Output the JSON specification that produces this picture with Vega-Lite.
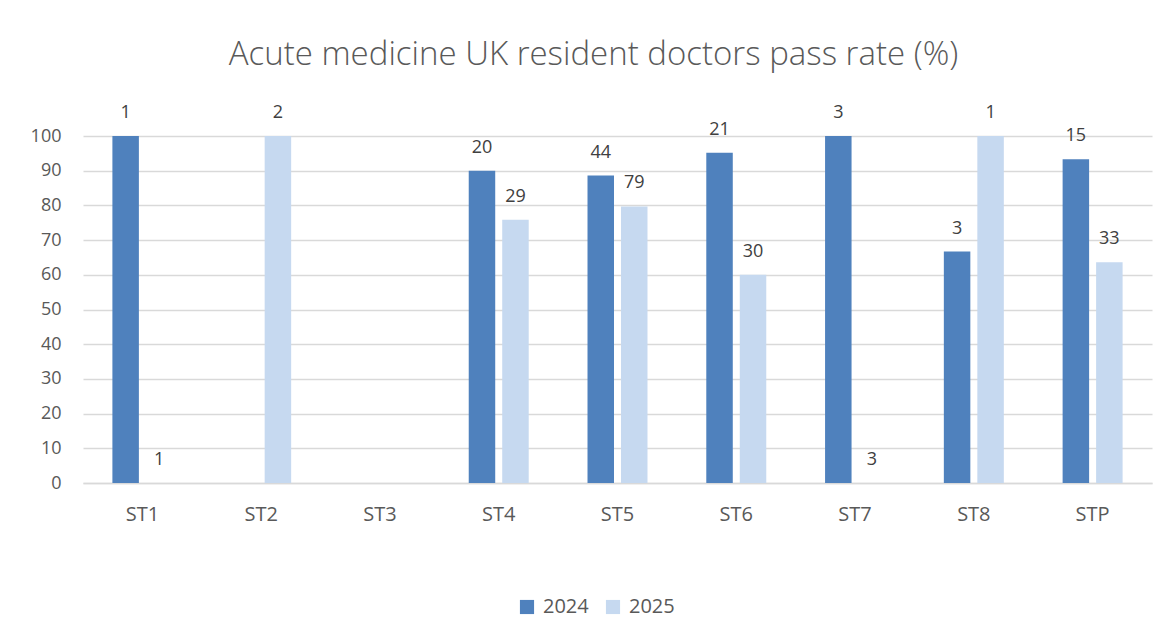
{
  "$schema": "https://vega.github.io/schema/vega-lite/v6.json",
  "width": 1069,
  "height": 347,
  "autosize": {"type": "none"},
  "padding": {"left": 83, "top": 136, "right": 20, "bottom": 157},
  "background": "white",
  "title": {
    "text": "Acute medicine UK resident doctors pass rate (%)",
    "font": "Open Sans",
    "fontWeight": 300,
    "fontSize": 33,
    "color": "#595959",
    "anchor": "middle",
    "dx": -24,
    "offset": 32
  },
  "data": {
    "values": [
      {"grade": "ST1", "year": "2024", "rate": 100, "n": 1},
      {"grade": "ST1", "year": "2025", "rate": 0, "n": 1},
      {"grade": "ST2", "year": "2025", "rate": 100, "n": 2},
      {"grade": "ST4", "year": "2024", "rate": 90, "n": 20},
      {"grade": "ST4", "year": "2025", "rate": 75.9, "n": 29},
      {"grade": "ST5", "year": "2024", "rate": 88.6, "n": 44},
      {"grade": "ST5", "year": "2025", "rate": 79.7, "n": 79},
      {"grade": "ST6", "year": "2024", "rate": 95.2, "n": 21},
      {"grade": "ST6", "year": "2025", "rate": 60, "n": 30},
      {"grade": "ST7", "year": "2024", "rate": 100, "n": 3},
      {"grade": "ST7", "year": "2025", "rate": 0, "n": 3},
      {"grade": "ST8", "year": "2024", "rate": 66.7, "n": 3},
      {"grade": "ST8", "year": "2025", "rate": 100, "n": 1},
      {"grade": "STP", "year": "2024", "rate": 93.3, "n": 15},
      {"grade": "STP", "year": "2025", "rate": 63.6, "n": 33}
    ]
  },
  "encoding": {
    "x": {
      "field": "grade",
      "type": "nominal",
      "scale": {"domain": ["ST1", "ST2", "ST3", "ST4", "ST5", "ST6", "ST7", "ST8", "STP"], "paddingInner": 0.495, "paddingOuter": 0.2475},
      "axis": {
        "title": null,
        "labelAngle": 0,
        "labelFont": "Open Sans",
        "labelFontSize": 20,
        "labelColor": "#595959",
        "labelPadding": 21,
        "ticks": false,
        "domainColor": "#d9d9d9",
        "domainWidth": 1.5,
        "grid": false
      }
    },
    "xOffset": {
      "field": "year",
      "type": "nominal",
      "scale": {"domain": ["2024", "2025"], "paddingInner": 0.209, "paddingOuter": 0}
    },
    "y": {
      "field": "rate",
      "type": "quantitative",
      "scale": {"domain": [0, 100], "nice": false},
      "axis": {
        "title": null,
        "values": [0, 10, 20, 30, 40, 50, 60, 70, 80, 90, 100],
        "labelFont": "Open Sans",
        "labelFontSize": 18,
        "labelColor": "#595959",
        "labelPadding": 22,
        "ticks": false,
        "domain": false,
        "gridColor": "#d9d9d9",
        "gridWidth": 1.5
      }
    }
  },
  "layer": [
    {
      "mark": {"type": "bar"},
      "encoding": {
        "color": {
          "field": "year",
          "type": "nominal",
          "scale": {"domain": ["2024", "2025"], "range": ["#4f81bd", "#c6d9f0"]},
          "legend": {
            "title": null,
            "orient": "none",
            "legendX": 434,
            "legendY": 461,
            "direction": "horizontal",
            "symbolType": "square",
            "symbolSize": 200,
            "symbolStrokeWidth": 0,
            "labelFont": "Open Sans",
            "labelFontSize": 20,
            "labelColor": "#595959",
            "labelOffset": 6,
            "columnPadding": 14
          }
        }
      }
    },
    {
      "mark": {"type": "text", "baseline": "alphabetic", "dy": -18, "font": "Open Sans", "fontSize": 18, "color": "#404040"},
      "encoding": {
        "text": {"field": "n", "type": "quantitative"}
      }
    }
  ],
  "config": {"view": {"stroke": null}}
}
